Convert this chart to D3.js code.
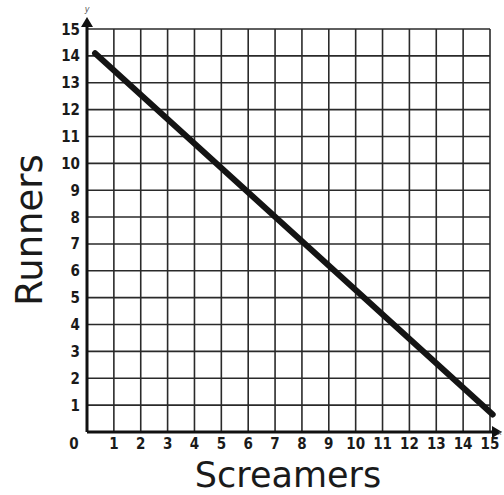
<!DOCTYPE html>
<html><head><meta charset="utf-8">
<script src="https://cdn.jsdelivr.net/npm/d3@7"></script>
<style>body{margin:0;background:#fff}</style>
</head><body>
<svg id="c" width="504" height="495"></svg>
<script>
const xTicks = [1,2,3,4,5,6,7,8,9,10,11,12,13,14,15];
const yTicks = [1,2,3,4,5,6,7,8,9,10,11,12,13,14,15];
const lineX = [0.3, 15.1];
const lineY = [14.1, 0.65];
const xTitle = "Screamers";
const yTitle = "Runners";

const svg = d3.select("#c");
const x = d3.scaleLinear().domain([0,15]).range([87,490]);
const y = d3.scaleLinear().domain([0,15]).range([432,29]);

const g = svg.append("g");
// grid
g.selectAll("line.v").data(xTicks).join("line")
  .attr("x1", d=>x(d)).attr("x2", d=>x(d)).attr("y1", y(0)).attr("y2", y(15))
  .attr("stroke","#2a2a2a").attr("stroke-width",1.6);
g.selectAll("line.h").data(yTicks).join("line")
  .attr("y1", d=>y(d)).attr("y2", d=>y(d)).attr("x1", x(0)).attr("x2", x(15))
  .attr("stroke","#2a2a2a").attr("stroke-width",1.6);

// axes
svg.append("line").attr("x1",x(0)).attr("x2",x(15)+6).attr("y1",y(0)).attr("y2",y(0)).attr("stroke","#111").attr("stroke-width",3);
svg.append("line").attr("x1",x(0)).attr("x2",x(0)).attr("y1",y(0)).attr("y2",y(15)-6).attr("stroke","#111").attr("stroke-width",3);
svg.append("path").attr("d",`M${x(0)-6},${y(15)-2} L${x(0)},${y(15)-12} L${x(0)+6},${y(15)-2} Z`).attr("fill","#111");
svg.append("path").attr("d",`M${x(15)+2},${y(0)-6} L${x(15)+12},${y(0)} L${x(15)+2},${y(0)+6} Z`).attr("fill","#111");
svg.append("text").attr("x",x(0)).attr("y",y(15)-17).attr("text-anchor","middle")
  .attr("font-family","DejaVu Sans").attr("font-style","italic").attr("font-size",8).attr("fill","#555").text("y");
svg.append("text").attr("x",502).attr("y",y(0)+3).attr("text-anchor","end")
  .attr("font-family","DejaVu Sans").attr("font-style","italic").attr("font-size",7).attr("fill","#555").text("x");

// tick labels
const tf = "'DejaVu Sans Condensed', 'DejaVu Sans'";
svg.selectAll("text.xt").data(xTicks).join("text")
  .attr("x", d=>x(d)).attr("y", y(0)+17).attr("text-anchor","middle")
  .attr("font-family",tf).attr("font-weight","bold").attr("font-size",15).attr("fill","#1a1a1a").text(d=>d);
svg.selectAll("text.yt").data(yTicks).join("text")
  .attr("x", x(0)-7).attr("y", d=>y(d)+5.5).attr("text-anchor","end")
  .attr("font-family",tf).attr("font-weight","bold").attr("font-size",15).attr("fill","#1a1a1a").text(d=>d);
svg.append("text").attr("x",x(0)-13).attr("y",y(0)+17).attr("text-anchor","middle")
  .attr("font-family",tf).attr("font-weight","bold").attr("font-size",15).attr("fill","#1a1a1a").text("0");

// data line
svg.append("line").attr("x1",x(lineX[0])).attr("y1",y(lineY[0])).attr("x2",x(lineX[1])).attr("y2",y(lineY[1]))
  .attr("stroke","#141414").attr("stroke-width",6).attr("stroke-linecap","round");

// titles
svg.append("text").attr("x",288).attr("y",487).attr("text-anchor","middle")
  .attr("font-family","'DejaVu Sans'").attr("font-size",35).attr("fill","#1a1a1a").text(xTitle);
svg.append("text").attr("transform","translate(42,230) rotate(-90)").attr("text-anchor","middle")
  .attr("font-family","'DejaVu Sans'").attr("font-size",37).attr("fill","#1a1a1a").text(yTitle);
</script>
</body></html>
